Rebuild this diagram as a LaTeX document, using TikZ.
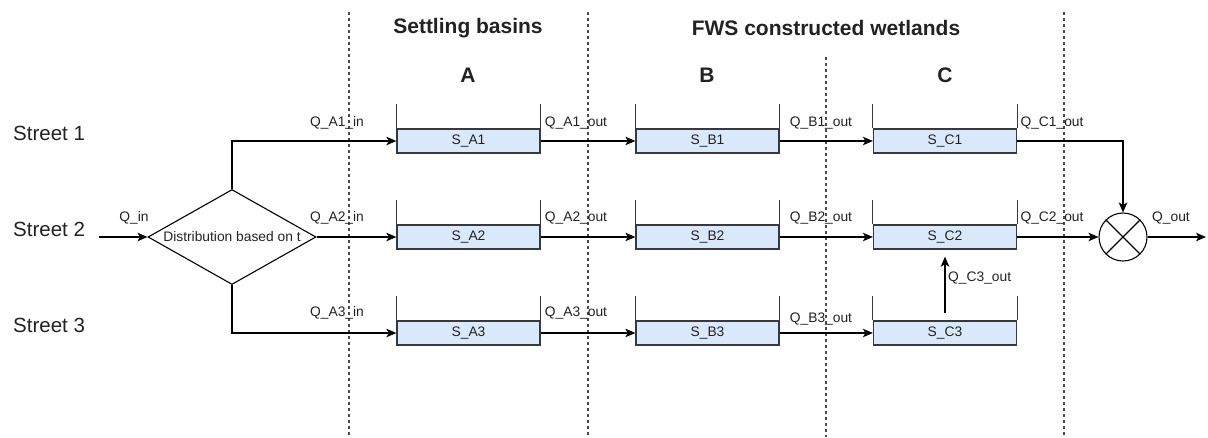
\documentclass[tikz,border=0pt]{standalone}
\usepackage{fontspec}
\setmainfont{Liberation Sans}
\usetikzlibrary{shapes.geometric,arrows.meta}

\definecolor{tankfill}{HTML}{DAE8FC}
\definecolor{tankline}{HTML}{36393D}
\definecolor{sepline}{HTML}{4A4A4A}
\definecolor{txt}{HTML}{222222}

\newcommand{\lblfont}{\fontsize{13.8}{16}\selectfont}

\tikzset{
  flow/.style={line width=1.2pt, draw=black, -{Stealth[length=10pt,width=8.5pt,inset=2.5pt]}},
  tankbody/.style={draw=tankline, line width=1.3pt, fill=tankfill, minimum width=143pt,
                   minimum height=24pt, inner sep=0pt, font=\lblfont, text=txt},
  wall/.style={draw=tankline, line width=1.1pt},
  sepline/.style={draw=sepline, line width=1.1pt, dash pattern=on 3pt off 3pt},
  qlabel/.style={font=\lblfont, inner sep=0pt, text=txt},
  title/.style={font=\fontsize{21}{24}\selectfont\bfseries, inner sep=0pt, text=txt},
  street/.style={font=\fontsize{20.5}{24}\selectfont, inner sep=0pt, anchor=west, text=txt}
}

\begin{document}
\begin{tikzpicture}[x=1pt, y=-1pt]
\useasboundingbox (0,0) rectangle (1208,437);

% section separators
\draw[sepline] (349,12) -- (349,437);
\draw[sepline] (588,12) -- (588,437);
\draw[sepline] (826,57) -- (826,437);
\draw[sepline] (1064,12) -- (1064,437);

% headings
\node[title] (hsb) at (468,28) {Settling basins};
\node[title] (hfws) at (826,28) {FWS constructed wetlands};
\node[title] (hA) at (468,75) {A};
\node[title] (hB) at (707,75) {B};
\node[title] (hC) at (945,75) {C};

% street names
\node[street] (st1) at (13,133) {Street 1};
\node[street] (st2) at (13,229) {Street 2};
\node[street] (st3) at (13,325) {Street 3};

% distribution node
\node[diamond, draw=black, line width=1.1pt, minimum width=168pt, minimum height=95pt,
      inner sep=0pt] (dist) at (232,237) {};
\node[qlabel] (disttxt) at (232,237) {Distribution based on t};
\coordinate (qin) at (99,237);

% storage tanks
\foreach \n/\x/\y in {A1/468.5/141, A2/468.5/237, A3/468.5/333,
                      B1/707.5/141, B2/707.5/237, B3/707.5/333,
                      C1/945/141,   C2/945/237,   C3/945/333}{
  \node[tankbody] (\n) at (\x,\y) {S\_\n};
  \draw[wall] (\n.north west) -- ++(0,-24);
  \draw[wall] (\n.north east) -- ++(0,-24);
}

% summation junction
\node[circle, draw=black, line width=1.1pt, minimum size=48pt, inner sep=0pt] (sum) at (1123,237) {};
\draw[line width=1.1pt] (sum.north west) -- (sum.south east);
\draw[line width=1.1pt] (sum.north east) -- (sum.south west);
\coordinate (qout) at (1206,237);

% flows
\draw[flow] (qin) -- (dist.west);
\draw[flow] (dist.north) |- (A1.west);
\draw[flow] (dist.east) -- (A2.west);
\draw[flow] (dist.south) |- (A3.west);
\draw[flow] (A1.east) -- (B1.west);
\draw[flow] (A2.east) -- (B2.west);
\draw[flow] (A3.east) -- (B3.west);
\draw[flow] (B1.east) -- (C1.west);
\draw[flow] (B2.east) -- (C2.west);
\draw[flow] (B3.east) -- (C3.west);
\draw[flow] (C1.east) -| (sum.north);
\draw[flow] (C2.east) -- (sum.west);
\draw[flow, shorten <=7pt, shorten >=7pt] (C3.north) -- (C2.south);
\draw[flow] (sum.east) -- (qout);

% flow labels
\node[qlabel] (lqin) at (134,218) {Q\_in};
\node[qlabel] (la1i) at (337,123) {Q\_A1\_in};
\node[qlabel] (la2i) at (337,218) {Q\_A2\_in};
\node[qlabel] (la3i) at (337,313) {Q\_A3\_in};
\node[qlabel] (la1o) at (576,123) {Q\_A1\_out};
\node[qlabel] (la2o) at (576,218) {Q\_A2\_out};
\node[qlabel] (la3o) at (576,313) {Q\_A3\_out};
\node[qlabel] (lb1o) at (821,123) {Q\_B1\_out};
\node[qlabel] (lb2o) at (821,218) {Q\_B2\_out};
\node[qlabel] (lb3o) at (821,319) {Q\_B3\_out};
\node[qlabel] (lc1o) at (1052,123) {Q\_C1\_out};
\node[qlabel] (lc2o) at (1052,218) {Q\_C2\_out};
\node[qlabel, anchor=west] (lc3o) at (948,278) {Q\_C3\_out};
\node[qlabel] (lqout) at (1171,218) {Q\_out};
\end{tikzpicture}
\end{document}
